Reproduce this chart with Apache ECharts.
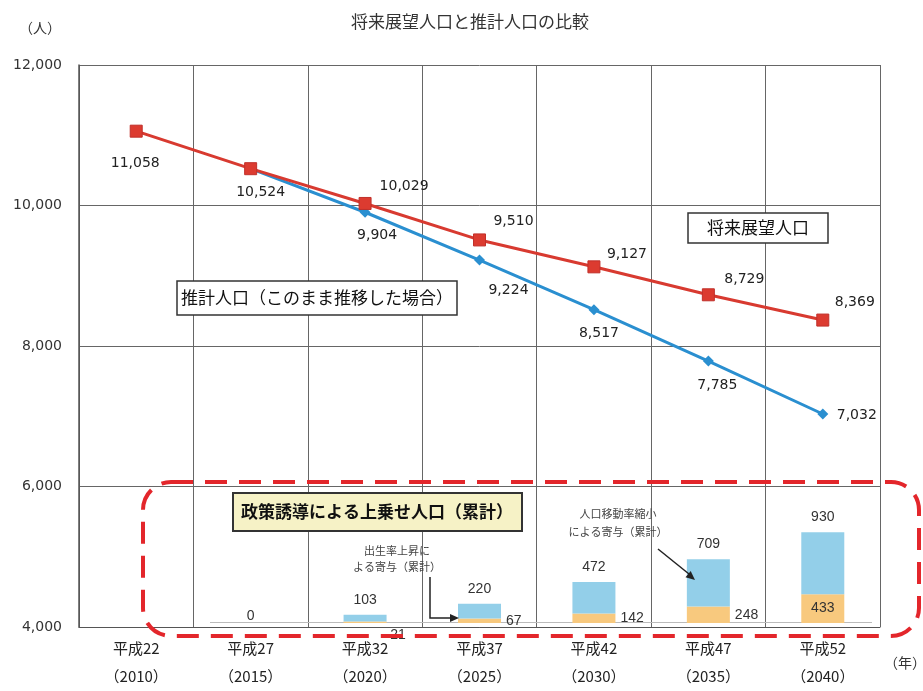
<!DOCTYPE html>
<html><head><meta charset="utf-8">
<script src="https://cdn.jsdelivr.net/npm/echarts@6/dist/echarts.min.js"></script>
<style>html,body{margin:0;padding:0;background:#fff}#c{width:923px;height:691px}</style>
</head><body><div id="c"></div>
<script>
const categories = ['平成22\n（2010）','平成27\n（2015）','平成32\n（2020）','平成37\n（2025）','平成42\n（2030）','平成47\n（2035）','平成52\n（2040）'];
const visionPop = [11058, 10524, 10029, 9510, 9127, 8729, 8369];
const trendPop = [null, 10524, 9904, 9224, 8517, 7785, 7032];
const birthContribution = [null, 0, 21, 67, 142, 248, 433];
const migrationContribution = [null, 0, 103, 220, 472, 709, 930];
const yTicks = [4000, 6000, 8000, 10000, 12000];

// label offsets (layout only)
const visionLabelOffsets = [[-1,32],[10,24],[39,-17],[34,-19],[33,-12],[36,-15],[32,-18]];
const trendLabelOffsets = [null,null,[12,23],[29,30],[5,24],[9,24],[34,1]];

const fmt = v => Number(v).toLocaleString('en-US');
const JP = '"Noto Sans CJK JP", sans-serif';
const NUM = '"DejaVu Sans", sans-serif';

const visionData = visionPop.map((v,i)=>({value:v, label:{offset:visionLabelOffsets[i]}}));
const trendData = trendPop.map((v,i)=> v==null ? null : ({value:v, label:{show: !!trendLabelOffsets[i], offset:trendLabelOffsets[i] || [0,0]}}));

const birthData = birthContribution.map((v,i)=>{
  if (v==null) return null;
  let lab;
  if (i===1) lab = {show:false};
  else if (i===2) lab = {position:'bottom', offset:[33,0]};
  else if (i===6) lab = {position:'inside'};
  else lab = {position:'right', distance:5};
  return {value:v, label:lab};
});
const migData = migrationContribution.map((v,i)=> v==null?null:(i===1?{value:v,label:{offset:[0,8]}}:{value:v}));

const chart = echarts.init(document.getElementById('c'), null, {renderer:'canvas'});
chart.setOption({
  animation:false,
  backgroundColor:'#fff',
  grid:[
    {left:79, right:43, top:65, bottom:64},
    {left:79, right:43, top:523, bottom:68}
  ],
  xAxis:[
    {type:'category', gridIndex:0, data:categories, boundaryGap:true,
     axisTick:{show:false},
     axisLine:{show:true, lineStyle:{color:'#555', width:1}},
     splitLine:{show:true, lineStyle:{color:'#666', width:1}},
     axisLabel:{color:'#222', fontFamily:JP, fontSize:15, lineHeight:28, margin:7, interval:0}},
    {type:'category', gridIndex:1, data:categories, boundaryGap:true, show:false}
  ],
  yAxis:[
    {type:'value', gridIndex:0, min:yTicks[0], max:yTicks[yTicks.length-1], interval:2000,
     axisLine:{show:true, lineStyle:{color:'#555', width:1.5}},
     axisTick:{show:false},
     splitLine:{show:true, lineStyle:{color:'#666', width:1}},
     axisLabel:{color:'#333', fontFamily:NUM, fontSize:14, margin:17, formatter:v=>fmt(v)}},
    {type:'value', gridIndex:1, min:0, max:1500, show:false, splitLine:{show:false}}
  ],
  series:[
    {name:'推計人口', type:'line', xAxisIndex:0, yAxisIndex:0, data:trendData,
     symbol:'diamond', symbolSize:11, z:3,
     itemStyle:{color:'#2a8fd0'}, lineStyle:{color:'#2a8fd0', width:3},
     label:{show:true, position:'inside', color:'#222', fontFamily:NUM, fontSize:14, formatter:p=>fmt(p.value)}},
    {name:'将来展望人口', type:'line', xAxisIndex:0, yAxisIndex:0, data:visionData,
     symbol:'rect', symbolSize:12, z:4,
     itemStyle:{color:'#dc3b30', borderColor:'#c0302a', borderWidth:1}, lineStyle:{color:'#d83a30', width:3},
     label:{show:true, position:'inside', color:'#222', fontFamily:NUM, fontSize:14, formatter:p=>fmt(p.value)}},
    {name:'出生率上昇による寄与', type:'bar', xAxisIndex:1, yAxisIndex:1, stack:'up', data:birthData,
     barWidth:43, itemStyle:{color:'#f8c97e'}, z:2,
     label:{show:true, color:'#333', fontFamily:'"Liberation Sans", sans-serif', fontSize:14, formatter:p=>fmt(p.value)}},
    {name:'人口移動率縮小による寄与', type:'bar', xAxisIndex:1, yAxisIndex:1, stack:'up', data:migData,
     barWidth:43, itemStyle:{color:'#93cfe9'}, z:2,
     label:{show:true, position:'top', distance:8, color:'#333', fontFamily:'"Liberation Sans", sans-serif', fontSize:14, formatter:p=>fmt(p.value)}}
  ],
  graphic:[
    {type:'text', x:470, y:22, style:{text:'将来展望人口と推計人口の比較', fontFamily:JP, fontSize:17, fill:'#333', textAlign:'center', textVerticalAlign:'middle'}},
    {type:'text', x:40, y:28, style:{text:'（人）', fontFamily:JP, fontSize:14, fill:'#333', textAlign:'center', textVerticalAlign:'middle'}},
    {type:'text', x:905, y:663, style:{text:'（年）', fontFamily:JP, fontSize:14, fill:'#333', textAlign:'center', textVerticalAlign:'middle'}},
    // legend boxes
    {type:'rect', shape:{x:688, y:213, width:140, height:30}, style:{fill:'#fff', stroke:'#333', lineWidth:1.5}, z:10},
    {type:'text', x:758, y:228, z:11, style:{text:'将来展望人口', fontFamily:JP, fontSize:17, fill:'#111', textAlign:'center', textVerticalAlign:'middle'}},
    {type:'rect', shape:{x:177, y:281, width:280, height:34}, style:{fill:'#fff', stroke:'#333', lineWidth:1.5}, z:10},
    {type:'text', x:317, y:298, z:11, style:{text:'推計人口（このまま推移した場合）', fontFamily:JP, fontSize:17, fill:'#111', textAlign:'center', textVerticalAlign:'middle'}},
    // inset decorations
    {type:'line', shape:{x1:210, y1:622.5, x2:872, y2:622.5}, style:{stroke:'#bbb', lineWidth:1}, z:1},
    {type:'rect', shape:{x:233, y:493, width:289, height:38}, style:{fill:'#f6f2c6', stroke:'#333', lineWidth:2}, z:10},
    {type:'text', x:377, y:512, z:11, style:{text:'政策誘導による上乗せ人口（累計）', fontFamily:JP, fontSize:17, fontWeight:'bold', fill:'#111', textAlign:'center', textVerticalAlign:'middle'}},
    {type:'text', x:397, y:559, z:11, style:{text:'出生率上昇に\nよる寄与（累計）', fontFamily:JP, fontSize:11, lineHeight:16, fill:'#444', textAlign:'center', textVerticalAlign:'middle'}},
    {type:'polyline', shape:{points:[[430,577],[430,618],[452,618]]}, style:{stroke:'#222', lineWidth:1.5, fill:null}, z:11},
    {type:'polygon', shape:{points:[[459,618],[450,614],[450,622]]}, style:{fill:'#222'}, z:11},
    {type:'text', x:618, y:523, z:11, style:{text:'人口移動率縮小\nによる寄与（累計）', fontFamily:JP, fontSize:11, lineHeight:18, fill:'#444', textAlign:'center', textVerticalAlign:'middle'}},
    {type:'line', shape:{x1:658, y1:549, x2:689, y2:574}, style:{stroke:'#222', lineWidth:1.5}, z:11},
    {type:'polygon', shape:{points:[[695,580],[685.5,577.3],[690.7,571.1]]}, style:{fill:'#222'}, z:11},
    {type:'rect', shape:{x:143, y:482, width:776, height:154, r:28}, style:{fill:null, stroke:'#e3262b', lineWidth:4, lineDash:[22,12]}, z:20}
  ]
});
</script></body></html>
